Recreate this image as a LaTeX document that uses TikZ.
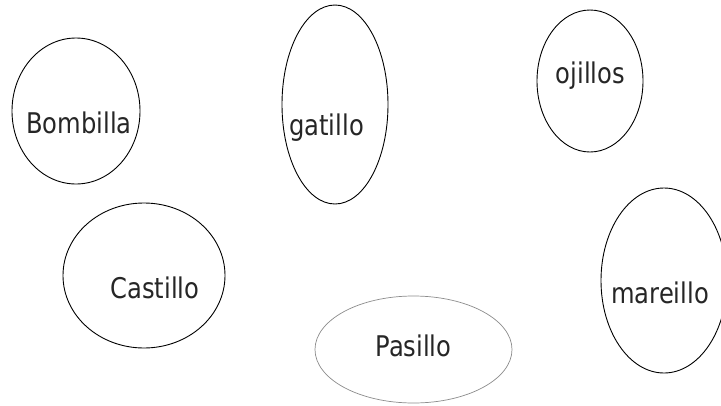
\documentclass[tikz,border=0pt]{standalone}
\usepackage{fontspec}
\setmainfont[FakeStretch=0.85]{DejaVu Sans}
\begin{document}
\begin{tikzpicture}[x=1pt,y=-1pt,
  oval/.style={draw=black,line width=0.9pt},
  grayoval/.style={draw=black!45,line width=0.7pt},
  lbl/.style={anchor=base,inner sep=0pt,font=\fontsize{28.5}{32}\selectfont,text=black!85}]
\useasboundingbox (0,0) rectangle (721,405);
\fill[white] (0,0) rectangle (721,405);
% ellipses
\draw[oval] (76,111) ellipse [x radius=64,y radius=73];
\draw[oval] (335,104.5) ellipse [x radius=53,y radius=99.5];
\draw[oval] (590,81) ellipse [x radius=53,y radius=71];
\draw[oval] (144,275.5) ellipse [x radius=81,y radius=72.5];
\draw[grayoval] (413.5,349.5) ellipse [x radius=98.5,y radius=53.5];
\draw[oval] (664,280.5) ellipse [x radius=63,y radius=92.5];
% labels
\node[lbl] (bombilla) at (79,133) {Bombilla};
\node[lbl] (gatillo) at (326.5,135) {gatillo};
\node[lbl] (ojillos) at (590.5,83) {ojillos};
\node[lbl] (castillo) at (155,298) {Castillo};
\node[lbl] (pasillo) at (413.5,356) {Pasillo};
\node[lbl] (mareillo) at (660,303) {mareillo};
\end{tikzpicture}
\end{document}
